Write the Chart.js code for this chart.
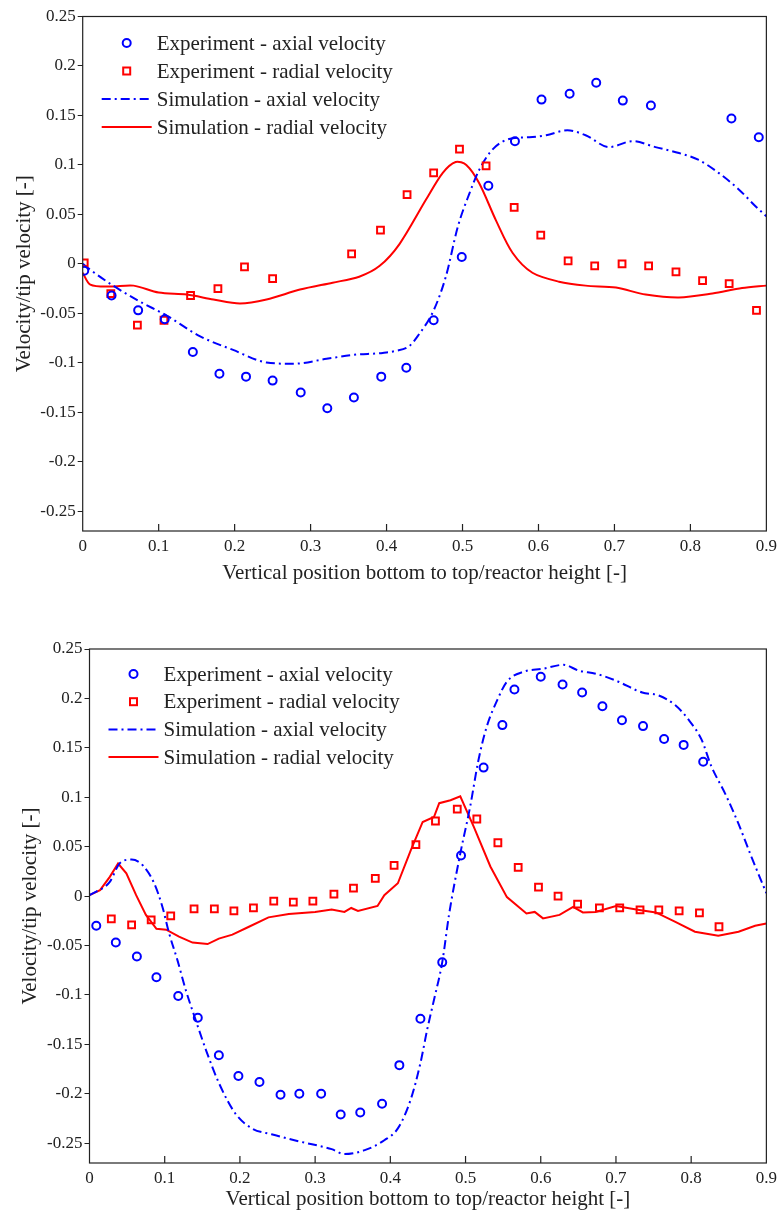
<!DOCTYPE html>
<html>
<head>
<meta charset="utf-8">
<script src="https://cdn.jsdelivr.net/npm/chart.js@4/dist/chart.umd.min.js"></script>
<style>
  body { margin: 0; background: #fff; }
  .plot { position: absolute; left: 0; }
</style>
</head>
<body>
<div class="plot" style="top:0px"><canvas id="chartTop" width="782" height="595"></canvas></div>
<div class="plot" style="top:600px"><canvas id="chartBottom" width="782" height="615"></canvas></div>
<script>
// axes
const xTicks = [0, 0.1, 0.2, 0.3, 0.4, 0.5, 0.6, 0.7, 0.8, 0.9];
const yTicks = [0.25, 0.2, 0.15, 0.1, 0.05, 0, -0.05, -0.1, -0.15, -0.2, -0.25];
const labels = ['Experiment - axial velocity', 'Experiment - radial velocity',
                'Simulation - axial velocity', 'Simulation - radial velocity'];

// upper plot
const topExpAxialX = [0.002, 0.038, 0.073, 0.108, 0.145, 0.180, 0.215, 0.250, 0.287, 0.322, 0.357, 0.393,
                      0.426, 0.462, 0.499, 0.534, 0.569, 0.604, 0.641, 0.676, 0.711, 0.748, 0.854, 0.890];
const topExpAxialY = [-0.007, -0.032, -0.047, -0.056, -0.089, -0.111, -0.114, -0.118, -0.130, -0.146, -0.135, -0.114,
                      -0.105, -0.057, 0.007, 0.079, 0.124, 0.166, 0.172, 0.183, 0.165, 0.160, 0.147, 0.128];
const topExpRadialX = [0.002, 0.037, 0.072, 0.107, 0.142, 0.178, 0.213, 0.250, 0.354, 0.392, 0.427, 0.462,
                       0.496, 0.531, 0.568, 0.603, 0.639, 0.674, 0.710, 0.745, 0.781, 0.816, 0.851, 0.887];
const topExpRadialY = [0.001, -0.030, -0.062, -0.057, -0.032, -0.025, -0.003, -0.015, 0.010, 0.034, 0.070, 0.092,
                       0.116, 0.099, 0.057, 0.029, 0.003, -0.002, 0.000, -0.002, -0.008, -0.017, -0.020, -0.047];
const topSimAxialX = [0, 0.01, 0.04, 0.075, 0.11, 0.154, 0.198, 0.242, 0.277, 0.321, 0.356, 0.395, 0.412, 0.43,
                      0.441, 0.462, 0.478, 0.494, 0.509, 0.522, 0.54, 0.566, 0.588, 0.61, 0.638, 0.662, 0.693,
                      0.724, 0.754, 0.785, 0.811, 0.837, 0.864, 0.886, 0.9];
const topSimAxialY = [0, -0.006, -0.022, -0.038, -0.052, -0.073, -0.087, -0.0997, -0.101, -0.096, -0.092, -0.090, -0.088, -0.083,
                      -0.073, -0.047, -0.013, 0.038, 0.071, 0.095, 0.116, 0.127, 0.128, 0.130, 0.135, 0.130, 0.118,
                      0.124, 0.118, 0.112, 0.105, 0.092, 0.075, 0.058, 0.048];
const topSimRadialX = [0, 0.01, 0.036, 0.067, 0.10, 0.137, 0.172, 0.207, 0.242, 0.286, 0.329, 0.364, 0.391, 0.417,
                       0.452, 0.474, 0.491, 0.505, 0.522, 0.544, 0.566, 0.592, 0.627, 0.662, 0.702, 0.741, 0.785,
                       0.829, 0.868, 0.9];
const topSimRadialY = [-0.009, -0.021, -0.023, -0.022, -0.029, -0.031, -0.036, -0.040, -0.036, -0.026, -0.019, -0.013, -0.002, 0.020,
                       0.065, 0.092, 0.103, 0.100, 0.0815, 0.044, 0.011, -0.009, -0.018, -0.022, -0.024, -0.031, -0.034,
                       -0.030, -0.0245, -0.022];

// lower plot
const botExpAxialX = [0.009, 0.035, 0.063, 0.089, 0.118, 0.144, 0.172, 0.198, 0.226, 0.254, 0.279, 0.308, 0.334, 0.360,
                      0.389, 0.412, 0.440, 0.469, 0.494, 0.524, 0.549, 0.565, 0.600, 0.629, 0.655, 0.682, 0.708, 0.736,
                      0.764, 0.790, 0.816];
const botExpAxialY = [-0.030, -0.047, -0.061, -0.082, -0.101, -0.123, -0.161, -0.182, -0.188, -0.201, -0.200, -0.200, -0.221, -0.219,
                      -0.210, -0.171, -0.124, -0.067, 0.041, 0.130, 0.173, 0.209, 0.222, 0.214, 0.206, 0.192, 0.178, 0.172,
                      0.159, 0.153, 0.136];
const botExpRadialX = [0.029, 0.056, 0.082, 0.108, 0.139, 0.166, 0.192, 0.218, 0.245, 0.271, 0.297, 0.325, 0.351, 0.380,
                       0.405, 0.434, 0.460, 0.489, 0.515, 0.543, 0.570, 0.597, 0.623, 0.649, 0.678, 0.705, 0.732, 0.757,
                       0.784, 0.811, 0.837];
const botExpRadialY = [-0.023, -0.029, -0.024, -0.020, -0.013, -0.013, -0.015, -0.012, -0.005, -0.006, -0.005, 0.002, 0.008, 0.018,
                       0.031, 0.052, 0.076, 0.088, 0.078, 0.054, 0.029, 0.009, 0.000, -0.008, -0.012, -0.012, -0.014, -0.014,
                       -0.015, -0.017, -0.031];
const botSimAxialX = [0, 0.027, 0.040, 0.056, 0.071, 0.086, 0.097, 0.106, 0.117, 0.128, 0.141, 0.155, 0.172, 0.194, 0.216,
                      0.242, 0.278, 0.322, 0.339, 0.366, 0.392, 0.410, 0.427, 0.440, 0.449, 0.458, 0.469, 0.478, 0.493,
                      0.506, 0.517, 0.528, 0.542, 0.555, 0.577, 0.603, 0.630, 0.651, 0.673, 0.700, 0.735, 0.757, 0.779,
                      0.797, 0.814, 0.827, 0.845, 0.863, 0.880, 0.9];
const botSimAxialY = [0.001, 0.0145, 0.033, 0.037, 0.031, 0.013, -0.011, -0.038, -0.065, -0.095, -0.125, -0.156, -0.189, -0.220, -0.235,
                      -0.241, -0.248, -0.256, -0.261, -0.257, -0.247, -0.235, -0.206, -0.169, -0.135, -0.105, -0.067, -0.019, 0.043,
                      0.090, 0.137, 0.171, 0.198, 0.217, 0.227, 0.230, 0.234, 0.228, 0.225, 0.218, 0.206, 0.203, 0.193,
                      0.178, 0.158, 0.131, 0.104, 0.073, 0.040, 0.003];
const botSimRadialX = [0, 0.014, 0.027, 0.038, 0.049, 0.062, 0.075, 0.089, 0.102, 0.119, 0.137, 0.157, 0.172, 0.190, 0.212,
                       0.238, 0.265, 0.300, 0.322, 0.339, 0.348, 0.357, 0.383, 0.392, 0.410, 0.427, 0.443, 0.458, 0.465,
                       0.480, 0.493, 0.511, 0.533, 0.555, 0.581, 0.592, 0.603, 0.625, 0.643, 0.656, 0.673, 0.700, 0.731,
                       0.753, 0.779, 0.805, 0.836, 0.863, 0.885, 0.9];
const botSimRadialY = [0.001, 0.006, 0.0195, 0.033, 0.023, 0.001, -0.019, -0.033, -0.034, -0.041, -0.047, -0.0485, -0.043, -0.039, -0.031,
                       -0.0215, -0.018, -0.016, -0.0135, -0.016, -0.012, -0.015, -0.010, 0.001, 0.013, 0.046, 0.075, 0.080, 0.094,
                       0.097, 0.101, 0.070, 0.030, -0.001, -0.0175, -0.016, -0.0225, -0.019, -0.011, -0.0165, -0.016, -0.010, -0.014,
                       -0.0165, -0.026, -0.036, -0.040, -0.036, -0.030, -0.0276];

const BLUE = '#0000ff';
const RED = '#ff0000';
const INK = '#222';
const SERIF = "'Liberation Serif', 'DejaVu Serif', serif";

function zip(xs, ys) {
    let out = [];
    for (let i = 0; i < xs.length; i++) out.push({x: xs[i], y: ys[i]});
    return out;
}

function fmt(v) {
    return String(Math.round(v * 100) / 100);
}

// frame, inward x ticks and the legend inside the plot
const framePlugin = {
    id: 'frame',
    afterDraw(chart, args, opts) {
        const ctx = chart.ctx;
        const a = chart.chartArea;
        const sx = chart.scales.x;
        ctx.save();
        ctx.strokeStyle = INK;
        ctx.lineWidth = 1.2;
        ctx.strokeRect(a.left, a.top, a.right - a.left, a.bottom - a.top);
        ctx.beginPath();
        xTicks.forEach(function(v) {
            if (v <= 0 || v >= 0.9) return;
            let px = sx.getPixelForValue(v);
            ctx.moveTo(px, a.bottom);
            ctx.lineTo(px, a.bottom - 7);
        });
        ctx.stroke();

        // legend
        ctx.font = '21px ' + SERIF;
        ctx.textBaseline = 'middle';
        ctx.textAlign = 'left';
        chart.data.datasets.forEach(function(ds, i) {
            let y = a.top + opts.top + i * opts.step;
            let cx = a.left + 44;
            ctx.strokeStyle = ds.borderColor;
            ctx.lineWidth = 2;
            if (ds.showLine) {
                ctx.setLineDash(ds.borderDash || []);
                ctx.beginPath();
                ctx.moveTo(a.left + 19, y);
                ctx.lineTo(a.left + 69, y);
                ctx.stroke();
                ctx.setLineDash([]);
            } else if (ds.pointStyle === 'rect') {
                ctx.strokeRect(cx - 3.5, y - 3.5, 7, 7);
            } else {
                ctx.beginPath();
                ctx.arc(cx, y, 4, 0, Math.PI * 2);
                ctx.stroke();
            }
            ctx.fillStyle = INK;
            ctx.fillText(ds.label, a.left + 74, y + 1);
        });
        ctx.restore();
    }
};

function makeChart(id, series, geo) {
    let datasets = [
        {label: labels[0], data: zip(series[0], series[1]), pointStyle: 'circle', pointRadius: 4,
         borderColor: BLUE, backgroundColor: 'rgba(0,0,0,0)', pointBorderWidth: 2, showLine: false},
        {label: labels[1], data: zip(series[2], series[3]), pointStyle: 'rect', pointRadius: 4.8,
         borderColor: RED, backgroundColor: 'rgba(0,0,0,0)', pointBorderWidth: 2, showLine: false},
        {label: labels[2], data: zip(series[4], series[5]), showLine: true, pointRadius: 0,
         borderColor: BLUE, borderWidth: 2, borderDash: [9, 4, 2, 4], cubicInterpolationMode: 'monotone'},
        {label: labels[3], data: zip(series[6], series[7]), showLine: true, pointRadius: 0,
         borderColor: RED, borderWidth: 2, tension: geo.redTension}
    ];
    return new Chart(document.getElementById(id), {
        type: 'scatter',
        data: {datasets: datasets},
        options: {
            responsive: false,
            animation: false,
            events: [],
            devicePixelRatio: 1,
            layout: {padding: {top: geo.top, right: geo.right, left: 0, bottom: 0}},
            plugins: {
                legend: {display: false},
                tooltip: {enabled: false},
                frame: {top: geo.legendTop, step: geo.legendStep}
            },
            scales: {
                x: {
                    type: 'linear', min: 0, max: 0.9,
                    afterBuildTicks: function(s) { s.ticks = xTicks.map(v => ({value: v})); },
                    afterFit: function(s) { s.height = geo.xAxisH; },
                    grid: {display: false, drawTicks: false},
                    border: {display: false},
                    ticks: {padding: 5, color: INK, maxRotation: 0, autoSkip: false,
                            font: {family: SERIF, size: 17}, callback: fmt},
                    title: {display: true, text: 'Vertical position bottom to top/reactor height [-]', color: INK,
                            font: {family: SERIF, size: 21}, padding: {top: 0, bottom: geo.xTitlePad}}
                },
                y: {
                    type: 'linear', min: -0.27, max: 0.25,
                    afterBuildTicks: function(s) { s.ticks = yTicks.map(v => ({value: v})); },
                    afterFit: function(s) { s.width = geo.yAxisW; },
                    grid: {drawOnChartArea: false, drawTicks: true, tickLength: 5, color: INK},
                    border: {display: false},
                    ticks: {padding: 2, color: INK, autoSkip: false,
                            font: {family: SERIF, size: 17}, callback: fmt},
                    title: {display: true, text: 'Velocity/tip velocity [-]', color: INK,
                            font: {family: SERIF, size: 21}, padding: {top: geo.yTitlePad, bottom: 0}}
                }
            }
        },
        plugins: [framePlugin]
    });
}

makeChart('chartTop',
    [topExpAxialX, topExpAxialY, topExpRadialX, topExpRadialY, topSimAxialX, topSimAxialY, topSimRadialX, topSimRadialY],
    {top: 16.5, right: 14.3, yAxisW: 82.7, xAxisH: 64, xTitlePad: 9, yTitlePad: 12,
     legendTop: 26.5, legendStep: 28, redTension: 0.3});

makeChart('chartBottom',
    [botExpAxialX, botExpAxialY, botExpRadialX, botExpRadialY, botSimAxialX, botSimAxialY, botSimRadialX, botSimRadialY],
    {top: 49, right: 10.5, yAxisW: 89.5, xAxisH: 52, xTitlePad: 3, yTitlePad: 18,
     legendTop: 25, legendStep: 27.7, redTension: 0});
</script>
</body>
</html>
